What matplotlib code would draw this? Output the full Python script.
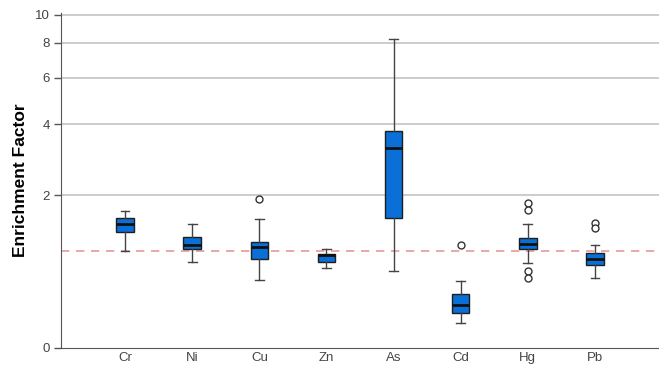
import numpy as np
import matplotlib
matplotlib.use('Agg')
from matplotlib import pyplot as plt

plt.rcParams['font.family'] = ['Liberation Sans', 'DejaVu Sans']

# element names and box statistics (EF values)
elements = ['Cr', 'Ni', 'Cu', 'Zn', 'As', 'Cd', 'Hg', 'Pb']
whislo = [1.01, 0.86, 0.63, 0.78, 0.74, 0.195, 0.84, 0.65]
q1 = [1.30, 1.035, 0.90, 0.85, 1.54, 0.28, 1.03, 0.81]
med = [1.43, 1.10, 1.06, 0.944, 3.23, 0.363, 1.11, 0.90]
q3 = [1.55, 1.22, 1.14, 0.963, 3.77, 0.475, 1.21, 0.98]
whishi = [1.675, 1.44, 1.53, 1.04, 8.23, 0.616, 1.44, 1.09]
fliers = [[], [], [1.91], [], [], [1.10], [1.84, 1.69, 0.744, 0.647], [1.45, 1.37]]

stats = []
for i in range(len(elements)):
    stats.append({'label': elements[i], 'whislo': whislo[i], 'q1': q1[i], 'med': med[i],
                  'q3': q3[i], 'whishi': whishi[i], 'fliers': fliers[i]})

fig = plt.figure(figsize=(6.59, 3.65), dpi=100)
ax = fig.add_axes([61/659, 0.0474, 1 - 61/659, 0.917])

ax.set_yscale('function', functions=(lambda v: np.log(np.maximum(v, -0.999) + 1),
                                     lambda y: np.exp(y) - 1))

for t in [2, 4, 6, 8, 10]:
    ax.axhline(t, color='#c8c8c8', lw=1.3, zorder=0)
ax.axhline(1, color='#e89a9a', lw=1.2, ls=(0, (5, 4)), zorder=1)

ax.bxp(stats, positions=range(1, 9), widths=0.26, capwidths=0.13, patch_artist=True,
       boxprops=dict(facecolor='#0a6fd6', edgecolor='#1e1e1e', linewidth=1),
       medianprops=dict(color='#111111', linewidth=2),
       whiskerprops=dict(color='#444444', linewidth=1),
       capprops=dict(color='#444444', linewidth=1),
       flierprops=dict(marker='o', markersize=5, markerfacecolor='white',
                       markeredgecolor='#333333', markeredgewidth=1),
       zorder=3)

ax.set_ylim(0, 10.15)
ax.set_xlim(0.045, 8.955)
ax.set_yticks([0, 2, 4, 6, 8, 10])
ax.set_yticklabels(['0', '2', '4', '6', '8', '10'])
ax.yaxis.set_minor_locator(matplotlib.ticker.NullLocator())
ax.tick_params(axis='y', length=5, width=1, color='#555555', labelsize=9.5, labelcolor='#444444', pad=3)
ax.tick_params(axis='x', length=0, labelsize=9.5, labelcolor='#444444', pad=3)

for s in ['top', 'right']:
    ax.spines[s].set_visible(False)
ax.spines['left'].set_color('#555555')
ax.spines['bottom'].set_color('#555555')

ax.set_ylabel('Enrichment Factor', fontsize=12.5, fontweight='bold', labelpad=5)

fig.savefig('out.png', dpi=100)
